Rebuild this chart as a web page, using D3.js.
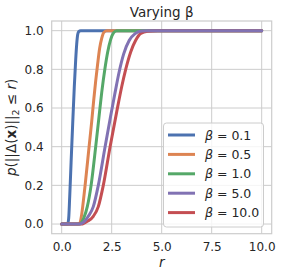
<!DOCTYPE html>
<html><head><meta charset="utf-8">
<script src="https://cdn.jsdelivr.net/npm/d3@7"></script>
<style>
body{margin:0;background:#fff}
svg{display:block}
text{font-family:"DejaVu Sans",sans-serif;fill:#262626}
</style>
</head><body>
<svg id="chart" width="281" height="276"></svg>
<script>
// ---- data ----
const betaLabels = ["0.1", "0.5", "1.0", "5.0", "10.0"];
const seriesColors = ["#4C72B0", "#DD8452", "#55A868", "#8172B3", "#C44E52"];

const rB01 = [0, 0.3, 0.35, 0.4, 0.47, 0.55, 0.63, 0.7, 0.75, 0.8, 0.85, 0.95, 10];
const pB01 = [0, 0, 0.03, 0.14, 0.32, 0.52, 0.71, 0.85, 0.93, 0.98, 0.995, 1, 1];

const rB05 = [0, 0.8, 0.9, 1.0, 1.05, 1.17, 1.37, 1.5, 1.6, 1.7, 1.8, 1.9, 2.0, 2.1, 2.25, 10];
const pB05 = [0, 0, 0.005, 0.05, 0.09, 0.2, 0.4, 0.53, 0.64, 0.74, 0.83, 0.91, 0.96, 0.99, 1, 1];

const rB1 = [0, 0.9, 1.0, 1.1, 1.28, 1.47, 1.7, 1.85, 2.0, 2.17, 2.3, 2.45, 2.6, 2.75, 10];
const pB1 = [0, 0, 0.01, 0.03, 0.09, 0.2, 0.4, 0.54, 0.68, 0.81, 0.89, 0.955, 0.99, 1, 1];

const rB5 = [0, 0.9, 1.0, 1.15, 1.33, 1.58, 1.83, 2.17, 2.45, 2.65, 2.88, 3.1, 3.38, 3.67, 4.0, 4.3, 10];
const pB5 = [0, 0, 0.003, 0.015, 0.04, 0.09, 0.2, 0.4, 0.56, 0.67, 0.79, 0.88, 0.95, 0.985, 0.998, 1, 1];

const rB10 = [0, 1.0, 1.1, 1.3, 1.58, 1.83, 2.08, 2.42, 2.75, 3.0, 3.2, 3.45, 3.7, 3.95, 4.3, 4.8, 10];
const pB10 = [0, 0, 0.003, 0.015, 0.04, 0.09, 0.2, 0.4, 0.58, 0.71, 0.8, 0.89, 0.95, 0.985, 0.997, 1, 1];

const xTicks = [0, 2.5, 5, 7.5, 10];
const yTicks = [0, 0.2, 0.4, 0.6, 0.8, 1.0];

const series = [
  {label: betaLabels[0], color: seriesColors[0], r: rB01, p: pB01},
  {label: betaLabels[1], color: seriesColors[1], r: rB05, p: pB05},
  {label: betaLabels[2], color: seriesColors[2], r: rB1,  p: pB1},
  {label: betaLabels[3], color: seriesColors[3], r: rB5,  p: pB5},
  {label: betaLabels[4], color: seriesColors[4], r: rB10, p: pB10}
];
const drawOrder = [0, 1, 2, 4, 3];

// ---- layout ----
const svg = d3.select("#chart");
const x = d3.scaleLinear().domain([-0.5, 10.5]).range([51.7, 271.7]);
const y = d3.scaleLinear().domain([-0.05, 1.05]).range([233.7, 21]);
const gridColor = "#cccccc";

// grid
svg.append("g").selectAll("line").data(xTicks).join("line")
  .attr("x1", d => x(d)).attr("x2", d => x(d))
  .attr("y1", y.range()[0]).attr("y2", y.range()[1])
  .attr("stroke", gridColor).attr("stroke-width", 1);
svg.append("g").selectAll("line").data(yTicks).join("line")
  .attr("y1", d => y(d)).attr("y2", d => y(d))
  .attr("x1", x.range()[0]).attr("x2", x.range()[1])
  .attr("stroke", gridColor).attr("stroke-width", 1);

// axes (tick labels only, seaborn whitegrid style)
const xAxis = svg.append("g").attr("transform", `translate(0,${y.range()[0]})`)
  .call(d3.axisBottom(x).tickValues(xTicks).tickFormat(d3.format(".1f")).tickSize(0).tickPadding(9));
const yAxis = svg.append("g").attr("transform", `translate(${x.range()[0]},0)`)
  .call(d3.axisLeft(y).tickValues(yTicks).tickFormat(d3.format(".1f")).tickSize(0).tickPadding(8));
[xAxis, yAxis].forEach(g => {
  g.select(".domain").remove();
  g.selectAll("text").attr("font-family", "DejaVu Sans, sans-serif").attr("font-size", 12).attr("fill", "#262626");
});

// frame
svg.append("rect")
  .attr("x", x.range()[0]).attr("y", y.range()[1])
  .attr("width", x.range()[1] - x.range()[0]).attr("height", y.range()[0] - y.range()[1])
  .attr("fill", "none").attr("stroke", gridColor).attr("stroke-width", 1.2);

// lines
const line = d3.line().x(d => x(d[0])).y(d => y(d[1])).curve(d3.curveMonotoneX);
drawOrder.forEach(i => {
  const s = series[i];
  svg.append("path")
    .datum(s.r.map((rv, j) => [rv, s.p[j]]))
    .attr("d", line)
    .attr("fill", "none").attr("stroke", s.color)
    .attr("stroke-width", 3).attr("stroke-linecap", "round").attr("stroke-linejoin", "round");
});

// title
svg.append("text").attr("x", (x.range()[0] + x.range()[1]) / 2).attr("y", 17)
  .attr("text-anchor", "middle").attr("font-size", 13.5).text("Varying β");

// x label
svg.append("text").attr("x", (x.range()[0] + x.range()[1]) / 2).attr("y", 267)
  .attr("text-anchor", "middle").attr("font-size", 13.5).attr("font-style", "italic").text("r");

// y label
const yl = svg.append("text")
  .attr("transform", `translate(16,${(y.range()[0] + y.range()[1]) / 2}) rotate(-90)`)
  .attr("text-anchor", "middle").attr("font-size", 13.5);
yl.append("tspan").attr("font-style", "italic").text("p");
yl.append("tspan").text("(||Δ(");
yl.append("tspan").attr("font-weight", "bold").text("x");
yl.append("tspan").text(")||");
yl.append("tspan").attr("font-size", 9.5).attr("dy", 3).text("2");
yl.append("tspan").attr("dy", -3).text(" ≤ ");
yl.append("tspan").attr("font-style", "italic").text("r");
yl.append("tspan").text(")");

// legend
const lg = svg.append("g");
lg.append("rect").attr("x", 163.5).attr("y", 123).attr("width", 100).attr("height", 104)
  .attr("rx", 3).attr("fill", "#fff").attr("fill-opacity", 0.8)
  .attr("stroke", gridColor).attr("stroke-width", 1);
series.forEach((s, i) => {
  const yy = 135 + i * 19.4;
  lg.append("line").attr("x1", 168).attr("x2", 195).attr("y1", yy).attr("y2", yy)
    .attr("stroke", s.color).attr("stroke-width", 3);
  const t = lg.append("text").attr("x", 205).attr("y", yy).attr("dy", "0.36em").attr("font-size", 12.5);
  t.append("tspan").attr("font-style", "italic").text("β");
  t.append("tspan").text(" = " + s.label);
});
</script>
</body></html>
